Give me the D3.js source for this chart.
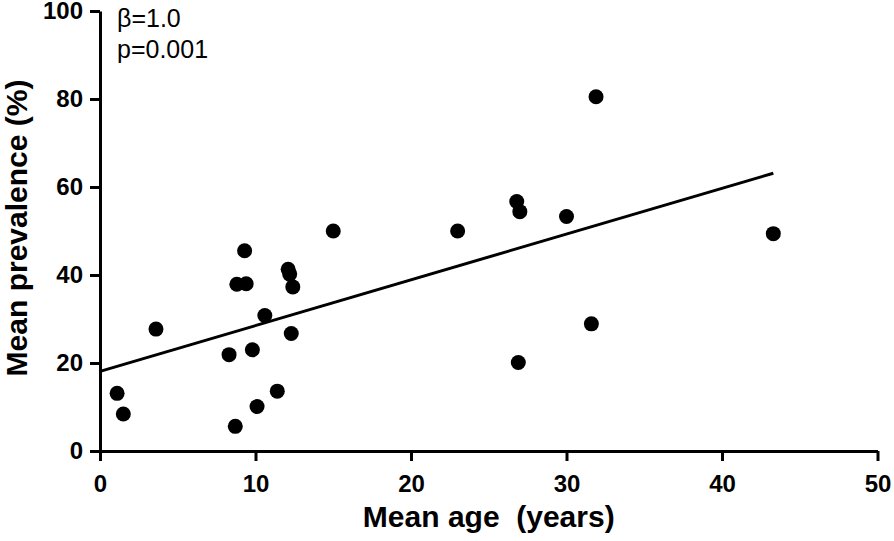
<!DOCTYPE html>
<html>
<head>
<meta charset="utf-8">
<script src="https://cdn.jsdelivr.net/npm/d3@7"></script>
<style>
  body { margin: 0; background: #fff; }
  svg { display: block; font-family: 'Liberation Sans', Arial, sans-serif; }
</style>
</head>
<body>
<div id="chart"></div>
<script>
// mean age (years) and mean prevalence (%) per study
const ages = [1.1, 1.5, 3.6, 8.3, 8.7, 8.8, 9.4, 9.3, 9.8, 10.1, 10.6, 11.4,
  12.1, 12.2, 12.4, 12.3, 15.0, 23.0, 26.8, 27.0, 30.0, 31.9, 31.6, 26.9, 43.3];
const prevalence = [13.1, 8.4, 27.7, 21.9, 5.6, 37.9, 38.0, 45.5, 23.0, 10.1, 30.8, 13.6,
  41.3, 40.2, 37.3, 26.7, 50.0, 50.0, 56.7, 54.4, 53.3, 80.5, 28.9, 20.1, 49.4];

const xTicks = [0, 10, 20, 30, 40, 50];
const yTicks = [0, 20, 40, 60, 80, 100];

// regression line shown on the figure
const fitIntercept = 18.1;
const fitSlope = 1.04;
const annotations = ['\u03b2=1.0', 'p=0.001'];

const width = 894, height = 541;

const svg = d3.select('#chart')
  .append('svg')
  .attr('width', width)
  .attr('height', height);

const x = d3.scaleLinear().domain([0, 50]).range([100, 877.5]);
const y = d3.scaleLinear().domain([0, 100]).range([451, 11]);

const xAxis = svg.append('g')
  .attr('transform', 'translate(0,' + y(0) + ')')
  .call(d3.axisBottom(x).tickValues(xTicks).tickSize(10).tickSizeOuter(0).tickPadding(14));

const yAxis = svg.append('g')
  .attr('transform', 'translate(' + x(0) + ',0)')
  .call(d3.axisLeft(y).tickValues(yTicks).tickSize(10).tickSizeOuter(0).tickPadding(7));

[xAxis, yAxis].forEach(g => {
  g.select('.domain').attr('stroke', '#000').attr('stroke-width', 3);
  g.selectAll('.tick line').attr('stroke', '#000').attr('stroke-width', 3);
  g.selectAll('.tick text')
    .attr('fill', '#000')
    .style('font-family', "'Liberation Sans', Arial, sans-serif")
    .style('font-weight', 'bold')
    .style('font-size', '24px');
});

// regression line from 0 to the largest age
const xMax = d3.max(ages);
svg.append('line')
  .attr('x1', x(0))
  .attr('y1', y(fitIntercept))
  .attr('x2', x(xMax))
  .attr('y2', y(fitIntercept + fitSlope * xMax))
  .attr('stroke', '#000')
  .attr('stroke-width', 3);

svg.selectAll('circle.pt')
  .data(ages.map((a, i) => [a, prevalence[i]]))
  .enter()
  .append('circle')
  .attr('class', 'pt')
  .attr('cx', d => x(d[0]))
  .attr('cy', d => y(d[1]))
  .attr('r', 7.5)
  .attr('fill', '#000');

svg.selectAll('text.ann')
  .data(annotations)
  .enter()
  .append('text')
  .attr('class', 'ann')
  .attr('x', 117)
  .attr('y', (d, i) => 27 + i * 31)
  .style('font-size', '25px')
  .text(d => d);

svg.append('text')
  .attr('x', (x(0) + x(50)) / 2)
  .attr('y', 527)
  .attr('text-anchor', 'middle')
  .style('font-size', '30px')
  .style('font-weight', 'bold')
  .style('white-space', 'pre')
  .text('Mean age  (years)');

svg.append('text')
  .attr('transform', 'translate(27,228) rotate(-90)')
  .attr('text-anchor', 'middle')
  .style('font-size', '30px')
  .style('font-weight', 'bold')
  .text('Mean prevalence (%)');
</script>
</body>
</html>
